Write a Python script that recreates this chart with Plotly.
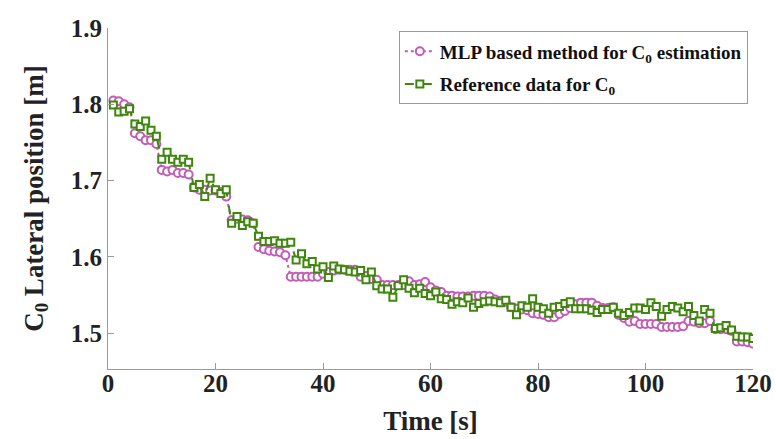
import plotly.graph_objects as go

time_s = list(range(1, 121))

mlp_c0 = [
    1.805, 1.804, 1.800, 1.796, 1.762, 1.758, 1.753, 1.753, 1.748, 1.714,
    1.712, 1.714, 1.710, 1.710, 1.708, 1.691, 1.688, 1.688, 1.687, 1.687,
    1.685, 1.679, 1.648, 1.650, 1.649, 1.648, 1.644, 1.613, 1.610, 1.608,
    1.607, 1.606, 1.602, 1.574, 1.574, 1.574, 1.574, 1.574, 1.574, 1.578,
    1.580, 1.582, 1.583, 1.583, 1.583, 1.583, 1.574, 1.575, 1.571, 1.570,
    1.563, 1.563, 1.563, 1.563, 1.563, 1.568, 1.563, 1.564, 1.567, 1.560,
    1.556, 1.554, 1.549, 1.549, 1.548, 1.548, 1.548, 1.549, 1.549, 1.549,
    1.548, 1.544, 1.542, 1.541, 1.534, 1.532, 1.531, 1.530, 1.526, 1.525,
    1.524, 1.521, 1.521, 1.525, 1.529, 1.533, 1.538, 1.540, 1.540, 1.540,
    1.536, 1.533, 1.533, 1.534, 1.524, 1.520, 1.515, 1.516, 1.512, 1.512,
    1.512, 1.512, 1.508, 1.508, 1.508, 1.508, 1.509, 1.516, 1.515, 1.513,
    1.513, 1.516, 1.505, 1.505, 1.505, 1.503, 1.489, 1.489, 1.488, 1.486,
]

ref_c0 = [
    1.799, 1.790, 1.791, 1.794, 1.774, 1.771, 1.778, 1.766, 1.758, 1.728,
    1.737, 1.728, 1.724, 1.728, 1.724, 1.691, 1.695, 1.679, 1.703, 1.688,
    1.683, 1.688, 1.644, 1.653, 1.641, 1.646, 1.644, 1.627, 1.620, 1.620,
    1.621, 1.618, 1.618, 1.619, 1.596, 1.604, 1.591, 1.594, 1.584, 1.587,
    1.573, 1.588, 1.584, 1.583, 1.581, 1.580, 1.582, 1.570, 1.580, 1.562,
    1.558, 1.558, 1.547, 1.562, 1.570, 1.559, 1.553, 1.559, 1.552, 1.549,
    1.554, 1.545, 1.544, 1.538, 1.541, 1.540, 1.546, 1.534, 1.539, 1.541,
    1.542, 1.541, 1.540, 1.543, 1.534, 1.524, 1.536, 1.534, 1.545, 1.534,
    1.532, 1.526, 1.534, 1.535, 1.539, 1.541, 1.532, 1.532, 1.532, 1.530,
    1.527, 1.531, 1.531, 1.534, 1.526, 1.523, 1.527, 1.533, 1.533, 1.531,
    1.540, 1.535, 1.522, 1.531, 1.535, 1.533, 1.528, 1.535, 1.523, 1.516,
    1.531, 1.526, 1.506, 1.507, 1.510, 1.504, 1.496, 1.495, 1.495, 1.493,
]

x_ticks = [0, 20, 40, 60, 80, 100, 120]
y_ticks = [1.5, 1.6, 1.7, 1.8, 1.9]

FONT = "Liberation Serif"
MAGENTA = "#c25cb4"
GREEN = "#3f870c"

fig = go.Figure()
fig.add_trace(go.Scatter(
    x=time_s, y=mlp_c0, mode="lines+markers",
    name="<b>MLP based method for C<sub>0</sub> estimation</b>",
    legendgroup="mlp",
    line=dict(color=MAGENTA, width=2, dash="dot"),
    marker=dict(symbol="circle", size=8, color="white",
                line=dict(color=MAGENTA, width=2)),
))
fig.add_trace(go.Scatter(
    x=time_s, y=ref_c0, mode="lines+markers",
    name="<b>Reference data for C<sub>0</sub></b>",
    legendgroup="ref",
    line=dict(color=GREEN, width=2, dash="dash"),
    marker=dict(symbol="square", size=7, color="white",
                line=dict(color=GREEN, width=2)),
))

axis_common = dict(
    showline=True, linecolor="#9a9a9a", linewidth=1,
    ticks="inside", ticklen=6, tickcolor="#9a9a9a",
    showgrid=False, zeroline=False, mirror=False,
    tickfont=dict(family=FONT, size=25, color="#222222"),
)

fig.update_layout(
    width=776, height=439,
    margin=dict(l=108, r=23, t=28, b=70, autoexpand=False),
    paper_bgcolor="white", plot_bgcolor="white",
    font=dict(family=FONT, color="#222222"),
    xaxis=dict(
        range=[0, 120], tickvals=x_ticks, ticktext=[f"<b>{v}</b>" for v in x_ticks],
        ticklabelstandoff=-8,
        title=dict(text="<b>Time [s]</b>", font=dict(family=FONT, size=27), standoff=15),
        **axis_common,
    ),
    yaxis=dict(
        range=[1.453, 1.9], tickvals=y_ticks, ticktext=[f"<b>{v:.1f}</b>" for v in y_ticks],
        title=dict(text="<b>C<sub>0</sub> Lateral position [m]</b>",
                   font=dict(family=FONT, size=27), standoff=19),
        **axis_common,
    ),
    legend=dict(
        x=0.992, y=0.99, xanchor="right", yanchor="top",
        bgcolor="white", bordercolor="#9a9a9a", borderwidth=1,
        font=dict(family=FONT, size=19, color="#111111"),
        itemwidth=30, tracegroupgap=5, traceorder="grouped",
    ),
    showlegend=True,
)

fig.write_html("out.html", config={"displayModeBar": False},
               post_script="document.body.style.margin='0px';")
